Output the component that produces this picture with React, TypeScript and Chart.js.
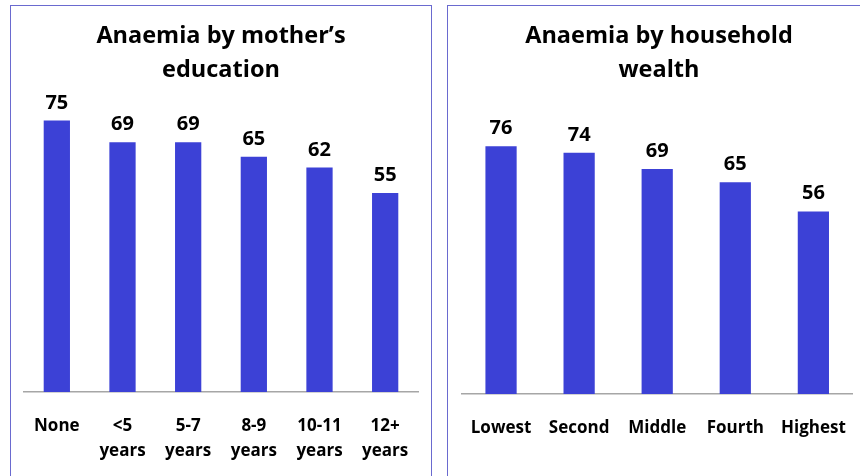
import React, { useEffect, useRef } from "react";
import { Chart, registerables } from "chart.js";

Chart.register(...registerables);

const eduCategories: (string | string[])[] = ["None", ["<5", "years"], ["5-7", "years"], ["8-9", "years"], ["10-11", "years"], ["12+", "years"]];
const eduValues = [75, 69, 69, 65, 62, 55];
const eduTitle = ["Anaemia by mother\u2019s", "education"];

const wealthCategories = ["Lowest", "Second", "Middle", "Fourth", "Highest"];
const wealthValues = [76, 74, 69, 65, 56];
const wealthTitle = ["Anaemia by household", "wealth"];

const FONT = "'Open Sans'";
const BAR_COLOR = "#3c41d6";

const valueLabels = {
  id: "valueLabels",
  afterDatasetsDraw(chart: any) {
    const ctx = chart.ctx;
    const meta = chart.getDatasetMeta(0);
    const data = chart.data.datasets[0].data;
    ctx.save();
    ctx.font = `700 20px ${FONT}`;
    ctx.fillStyle = "#000";
    ctx.textAlign = "center";
    ctx.textBaseline = "alphabetic";
    meta.data.forEach((bar: any, i: number) => {
      ctx.fillText(String(data[i]), bar.x, bar.y - 12);
    });
    ctx.restore();
  },
};

type PanelProps = {
  left: number;
  labels: (string | string[])[];
  values: number[];
  title: string[];
  yMax: number;
  padLeft: number;
  padRight: number;
  axisHeight: number;
  titlePadBottom: number;
};

function Panel(p: PanelProps) {
  const ref = useRef<HTMLCanvasElement>(null);
  useEffect(() => {
    const chart = new Chart(ref.current!, {
      type: "bar",
      data: {
        labels: p.labels as any,
        datasets: [
          {
            data: p.values,
            backgroundColor: BAR_COLOR,
            barPercentage: 0.4,
            categoryPercentage: 1,
          },
        ],
      },
      options: {
        responsive: false,
        animation: false,
        layout: { padding: { left: p.padLeft, right: p.padRight, top: 0, bottom: 0 } },
        plugins: {
          legend: { display: false },
          tooltip: { enabled: false },
          title: {
            display: true,
            text: p.title,
            color: "#000",
            font: { family: FONT, size: 23.5, weight: 700, lineHeight: 1.45 },
            padding: { top: 13, bottom: p.titlePadBottom },
          },
        },
        scales: {
          x: {
            grid: { display: false, drawTicks: false, tickLength: 0 },
            border: { display: true, color: "#a6a6a6", width: 1.5 },
            ticks: {
              color: "#000",
              font: { family: FONT, size: 17, weight: 700, lineHeight: 1.5 },
              padding: 21,
              maxRotation: 0,
              autoSkip: false,
            },
            afterFit: (scale: any) => {
              scale.height = p.axisHeight;
            },
          },
          y: {
            display: false,
            min: 0,
            max: p.yMax,
          },
        },
      },
      plugins: [valueLabels],
    });
    return () => chart.destroy();
  }, []);
  return (
    <div
      style={{
        position: "absolute",
        left: p.left,
        top: 5,
        width: 420,
        height: 480,
        border: "1px solid #6a6acf",
        background: "#fff",
      }}
    >
      <canvas ref={ref} width={420} height={480} style={{ width: 420, height: 480, display: "block" }} />
    </div>
  );
}

export default function App() {
  return (
    <div
      style={{
        position: "fixed",
        left: 0,
        top: 0,
        width: 860,
        height: 476,
        overflow: "hidden",
        background: "#fff",
      }}
    >
      <Panel
        left={10}
        labels={eduCategories}
        values={eduValues}
        title={eduTitle}
        yMax={80}
        padLeft={13}
        padRight={13}
        axisHeight={94}
        titlePadBottom={15.3}
      />
      <Panel
        left={447}
        labels={wealthCategories}
        values={wealthValues}
        title={wealthTitle}
        yMax={90}
        padLeft={14}
        padRight={12}
        axisHeight={92}
        titlePadBottom={13.5}
      />
    </div>
  );
}
